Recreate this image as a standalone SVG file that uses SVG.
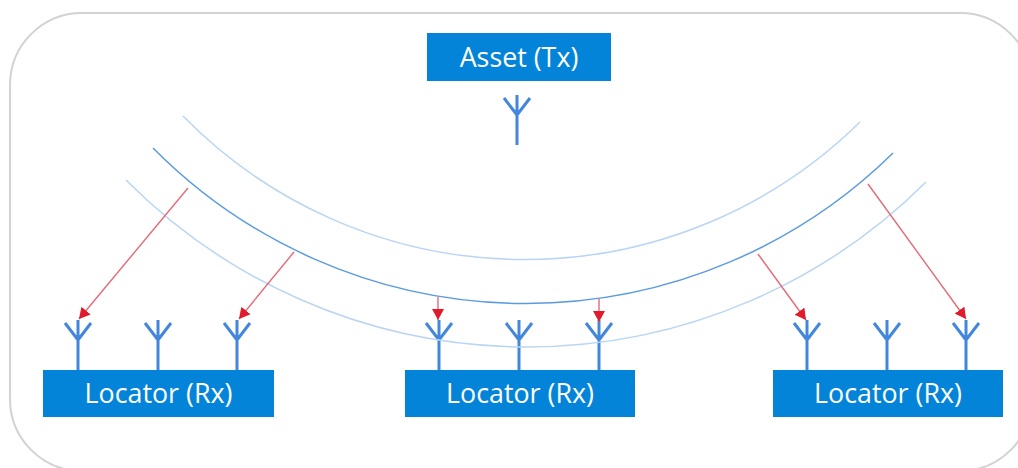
<svg xmlns="http://www.w3.org/2000/svg" width="1018" height="468" viewBox="0 0 1018 468">
<style>
.box{fill:#0484d8}
.lbl{font-family:"Open Sans","Noto Sans","Liberation Sans",sans-serif;font-size:26.800px;fill:#fff;text-anchor:middle}
.ant{fill:none;stroke:#4287dc;stroke-width:3}
.wave{fill:none;stroke:#b9d5f3;stroke-width:1.5}
.wave2{fill:none;stroke:#5b9be0;stroke-width:1.5}
.arr{stroke:#e46a75;stroke-width:1.4;fill:none;marker-end:url(#ah)}
</style>
<defs>
<marker id="ah" markerUnits="userSpaceOnUse" markerWidth="13" markerHeight="13" refX="11" refY="6" orient="auto"><path d="M0 0L11 6L0 12Z" fill="#e01b2c"/></marker>
<path id="a" d="M0 0V-50M-13 -47L0 -30L13 -47"/>
</defs>
<rect id="frame" x="10" y="13" width="1022" height="458" rx="72" fill="#fff" stroke="#d2d2d2" stroke-width="2"/>
<g id="asset"><rect class="box" x="427" y="33" width="184" height="48"/><text class="lbl" x="519" y="67">Asset (Tx)</text><use href="#a" class="ant" x="517" y="145"/></g>
<g id="locator1"><rect class="box" x="43" y="370" width="231" height="47"/><text class="lbl" x="158.500" y="403">Locator (Rx)</text><use href="#a" class="ant" x="78" y="370"/><use href="#a" class="ant" x="158" y="370"/><use href="#a" class="ant" x="237" y="370"/></g>
<g id="locator2"><rect class="box" x="405" y="370" width="230" height="47"/><text class="lbl" x="520" y="403">Locator (Rx)</text><use href="#a" class="ant" x="439" y="370"/><use href="#a" class="ant" x="519" y="370"/><use href="#a" class="ant" x="599" y="370"/></g>
<g id="locator3"><rect class="box" x="773" y="370" width="230" height="47"/><text class="lbl" x="888" y="403">Locator (Rx)</text><use href="#a" class="ant" x="807" y="370"/><use href="#a" class="ant" x="887" y="370"/><use href="#a" class="ant" x="966" y="370"/></g>
<g id="connectors">
<path class="wave" d="M183 116A478 478 0 0 0 860 122"/>
<path class="wave2" d="M153 148A524 524 0 0 0 893 153"/>
<path class="wave" d="M126 180A565 565 0 0 0 926 182"/>
<path class="arr" d="M188 188L79 319"/>
<path class="arr" d="M294 252L239 319"/>
<path class="arr" d="M438 297V320"/>
<path class="arr" d="M599 299V322"/>
<path class="arr" d="M758 254L806 320"/>
<path class="arr" d="M868 184L966 319"/>
</g>
</svg>
